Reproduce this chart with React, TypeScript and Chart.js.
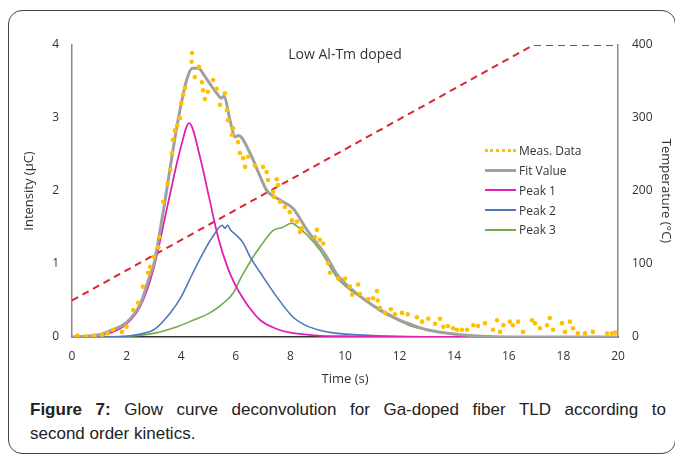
import { useEffect, useRef } from "react";
import { Chart, registerables } from "chart.js";

Chart.register(...registerables);

// ---- data ----
const measTime = [0.2, 0.5, 0.8, 1.1, 1.3, 1.5, 1.83, 2.0, 2.24, 2.42, 2.6, 2.79, 2.86, 3.0, 3.16, 3.2, 3.34, 3.5, 3.6, 3.66, 3.7, 3.77, 3.85, 3.95, 4.0, 4.07, 4.14, 4.38, 4.4, 4.5, 4.65, 4.76, 4.8, 4.87, 4.98, 5.17, 5.3, 5.42, 5.6, 5.67, 5.71, 5.86, 5.9, 6.08, 6.15, 6.27, 6.34, 6.45, 6.7, 7.0, 7.13, 7.18, 7.37, 7.4, 7.5, 7.55, 7.62, 7.8, 7.98, 8.06, 8.24, 8.35, 8.42, 8.9, 8.97, 9.08, 9.2, 9.38, 9.45, 9.75, 10.0, 10.18, 10.26, 10.48, 10.55, 10.85, 11.03, 11.17, 11.2, 11.28, 11.47, 11.68, 11.83, 12.09, 12.3, 12.63, 12.82, 13.05, 13.3, 13.48, 13.6, 13.77, 13.96, 14.1, 14.28, 14.47, 14.7, 14.87, 15.13, 15.42, 15.57, 15.68, 15.8, 16.04, 16.15, 16.34, 16.52, 16.85, 16.96, 17.14, 17.4, 17.5, 17.62, 17.95, 18.06, 18.24, 18.35, 18.53, 18.79, 19.08, 19.6, 19.78, 19.9];
const measIntensity = [0.02, 0.01, 0.02, 0.03, 0.05, 0.1, 0.07, 0.14, 0.37, 0.47, 0.69, 0.88, 0.96, 1.1, 1.23, 1.37, 1.85, 2.1, 2.29, 2.52, 2.7, 2.83, 2.9, 3.0, 3.2, 3.32, 3.41, 3.77, 3.89, 3.56, 3.7, 3.49, 3.38, 3.26, 3.36, 3.52, 3.4, 3.18, 3.34, 3.11, 2.97, 2.77, 2.86, 2.67, 2.52, 2.45, 2.33, 2.47, 2.35, 2.33, 2.26, 2.15, 1.99, 1.92, 2.16, 2.08, 1.85, 1.78, 1.71, 1.6, 1.58, 1.44, 1.49, 1.37, 1.47, 1.33, 1.28, 1.01, 0.88, 0.8, 0.8, 0.69, 0.58, 0.72, 0.59, 0.52, 0.53, 0.63, 0.5, 0.4, 0.33, 0.38, 0.31, 0.33, 0.31, 0.27, 0.21, 0.25, 0.18, 0.25, 0.14, 0.15, 0.12, 0.1, 0.1, 0.1, 0.16, 0.15, 0.19, 0.1, 0.23, 0.07, 0.16, 0.21, 0.16, 0.21, 0.07, 0.23, 0.19, 0.12, 0.16, 0.26, 0.1, 0.19, 0.07, 0.21, 0.12, 0.05, 0.05, 0.07, 0.05, 0.05, 0.06];

const fitTime = [0, 1, 1.5, 2, 2.5, 2.86, 3.0, 3.2, 3.4, 3.65, 3.96, 4.2, 4.4, 4.63, 4.85, 5.05, 5.3, 5.48, 5.56, 5.8, 5.97, 6.1, 6.52, 6.89, 7.13, 7.6, 8.1, 8.6, 9.33, 9.7, 10.1, 10.55, 11, 11.4, 12, 12.5, 13, 14, 15, 16, 20];
const fitValue = [0, 0.03, 0.1, 0.2, 0.45, 0.85, 1.0, 1.4, 1.85, 2.45, 3.12, 3.52, 3.68, 3.68, 3.58, 3.47, 3.34, 3.27, 3.3, 2.95, 2.74, 2.76, 2.52, 2.2, 2.01, 1.88, 1.76, 1.47, 1.1, 0.86, 0.7, 0.56, 0.44, 0.35, 0.23, 0.16, 0.1, 0.04, 0.01, 0, 0];

const peak1Time = [0, 0.5, 1, 1.5, 2, 2.5, 3, 3.5, 4, 4.29, 4.7, 5, 5.35, 5.7, 6, 6.15, 6.5, 6.9, 7.5, 8, 9, 10, 12, 20];
const peak1Value = [0, 0.005, 0.02, 0.07, 0.18, 0.42, 0.95, 1.8, 2.62, 2.93, 2.45, 1.95, 1.37, 0.95, 0.7, 0.6, 0.4, 0.23, 0.11, 0.06, 0.02, 0.01, 0, 0];

const peak2Time = [0, 1, 2, 2.5, 3, 3.6, 4, 4.43, 4.8, 5.2, 5.5, 5.6, 5.7, 5.8, 6.0, 6.27, 6.52, 6.9, 7.5, 8.1, 8.5, 9, 9.5, 10, 11, 12, 14, 20];
const peak2Value = [0, 0, 0.01, 0.04, 0.1, 0.33, 0.55, 0.88, 1.15, 1.4, 1.53, 1.49, 1.53, 1.47, 1.4, 1.29, 1.1, 0.88, 0.55, 0.27, 0.17, 0.1, 0.06, 0.04, 0.02, 0.01, 0, 0];

const peak3Time = [0, 1, 2, 3, 3.85, 4.5, 5.05, 5.5, 5.9, 6.2, 6.64, 6.88, 7.37, 7.7, 8.05, 8.3, 8.6, 9.08, 9.7, 10.1, 10.55, 11, 11.4, 12, 12.5, 13, 14.1, 15, 16, 20];
const peak3Value = [0, 0, 0.01, 0.05, 0.14, 0.24, 0.33, 0.45, 0.6, 0.82, 1.1, 1.23, 1.46, 1.5, 1.56, 1.5, 1.4, 1.19, 0.82, 0.67, 0.55, 0.43, 0.33, 0.22, 0.14, 0.1, 0.03, 0.01, 0, 0];

const tempTime = [0, 16.9, 20];
const tempValue = [50, 400, 400];

const legendLabels = ["Meas. Data", "Fit Value", "Peak 1", "Peak 2", "Peak 3"];

const pts = (xs: number[], ys: number[]) => xs.map((x, i) => ({ x, y: ys[i] }));

const FONT = "'Open Sans', sans-serif";

const titlePlugin = {
  id: "innerTitle",
  afterDraw(chart: any) {
    const { ctx, chartArea } = chart;
    ctx.save();
    ctx.font = `14px ${FONT}`;
    ctx.fillStyle = "#333";
    ctx.textAlign = "center";
    ctx.textBaseline = "middle";
    ctx.fillText("Low Al-Tm doped", (chartArea.left + chartArea.right) / 2, chartArea.top + 10);
    ctx.restore();
  },
};

function GlowChart() {
  const ref = useRef<HTMLCanvasElement | null>(null);
  useEffect(() => {
    if (!ref.current) return;
    const chart = new Chart(ref.current, {
      type: "line",
      data: {
        datasets: [
          {
            label: legendLabels[0],
            data: pts(measTime, measIntensity),
            showLine: false,
            pointRadius: 2.3,
            pointBackgroundColor: "#FFC000",
            pointBorderWidth: 0,
            yAxisID: "y",
          },
          {
            label: legendLabels[1],
            data: pts(fitTime, fitValue),
            borderColor: "#A0A0A0",
            borderWidth: 3,
            pointRadius: 0,
            cubicInterpolationMode: "monotone",
            yAxisID: "y",
          },
          {
            label: legendLabels[2],
            data: pts(peak1Time, peak1Value),
            borderColor: "#E020B4",
            borderWidth: 1.8,
            pointRadius: 0,
            cubicInterpolationMode: "monotone",
            yAxisID: "y",
          },
          {
            label: legendLabels[3],
            data: pts(peak2Time, peak2Value),
            borderColor: "#4F77BE",
            borderWidth: 1.6,
            pointRadius: 0,
            cubicInterpolationMode: "monotone",
            yAxisID: "y",
          },
          {
            label: legendLabels[4],
            data: pts(peak3Time, peak3Value),
            borderColor: "#72AC4A",
            borderWidth: 1.6,
            pointRadius: 0,
            cubicInterpolationMode: "monotone",
            yAxisID: "y",
          },
          {
            label: "Temperature",
            data: pts(tempTime, tempValue),
            borderColor: "#DD2530",
            borderWidth: 2,
            borderDash: [7, 5],
            pointRadius: 0,
            yAxisID: "y2",
          },
        ],
      },
      options: {
        animation: false,
        responsive: false,
        layout: { padding: { top: 34, left: 0, right: 0, bottom: 0 } },
        plugins: { legend: { display: false }, tooltip: { enabled: false }, title: { display: false } },
        scales: {
          x: {
            type: "linear",
            min: 0,
            max: 20,
            ticks: { stepSize: 2, padding: 12, color: "#333", font: { family: FONT, size: 12 } },
            grid: { display: false, drawTicks: false },
            border: { display: true, color: "#333", width: 1.5 },
            title: { display: true, text: "Time (s)", color: "#333", font: { family: FONT, size: 13 }, padding: { top: 0, bottom: 8 } },
            afterFit: (s: any) => { s.height = 58; },
          },
          y: {
            type: "linear",
            position: "left",
            min: 0,
            max: 4,
            ticks: { stepSize: 1, padding: 13, color: "#333", font: { family: FONT, size: 12 } },
            grid: { display: false, drawTicks: false },
            border: { display: true, color: "#8a8a8a", width: 1.5 },
            title: { display: true, text: "Intensity (µC)", color: "#333", font: { family: FONT, size: 13 }, padding: { top: 12, bottom: 0 } },
            afterFit: (s: any) => { s.width = 63; },
          },
          y2: {
            type: "linear",
            position: "right",
            min: 0,
            max: 400,
            ticks: { stepSize: 100, padding: 14, color: "#333", font: { family: FONT, size: 12 } },
            grid: { display: false, drawTicks: false },
            border: { display: true, color: "#8a8a8a", width: 1.5 },
            title: { display: true, text: "Temperature (°C)", color: "#333", font: { family: FONT, size: 13 }, padding: { top: 1, bottom: 0 } },
            afterFit: (s: any) => { s.width = 57; },
          },
        },
      },
      plugins: [titlePlugin],
    });
    return () => chart.destroy();
  }, []);
  return <canvas ref={ref} width={666} height={384} style={{ position: "absolute", left: 0, top: 0, width: 666, height: 384 }} />;
}

function Legend() {
  const styles: any[] = [
    { borderTop: "3px dotted #FFC000" },
    { borderTop: "3px solid #A0A0A0" },
    { borderTop: "2px solid #E020B4" },
    { borderTop: "2px solid #4F77BE" },
    { borderTop: "2px solid #72AC4A" },
  ];
  return (
    <div style={{ position: "absolute", left: 476, top: 130, fontFamily: FONT, fontSize: 12, color: "#333" }}>
      {legendLabels.map((l, i) => (
        <div key={l} style={{ display: "flex", alignItems: "center", height: 19.75 }}>
          <div style={{ width: 31, height: 0, ...styles[i], marginRight: 3 }} />
          <span>{l}</span>
        </div>
      ))}
    </div>
  );
}

export default function App() {
  return (
    <div style={{ paddingTop: 2 }}>
      <div
        style={{
          position: "relative",
          boxSizing: "border-box",
          width: 668,
          height: 444,
          border: "1px solid #444",
          borderRadius: 14,
          background: "#fff",
        }}
      >
        <GlowChart />
        <Legend />
        <div
          style={{
            position: "absolute",
            left: 21,
            top: 387,
            width: 636,
            fontFamily: "'Liberation Sans', Arial, sans-serif",
            fontSize: 17,
            lineHeight: "24px",
            color: "#222",
          }}
        >
          <div style={{ textAlign: "justify", textAlignLast: "justify" }}>
            <b>Figure 7:</b> Glow curve deconvolution for Ga-doped fiber TLD according to
          </div>
          <div>second order kinetics.</div>
        </div>
      </div>
    </div>
  );
}
